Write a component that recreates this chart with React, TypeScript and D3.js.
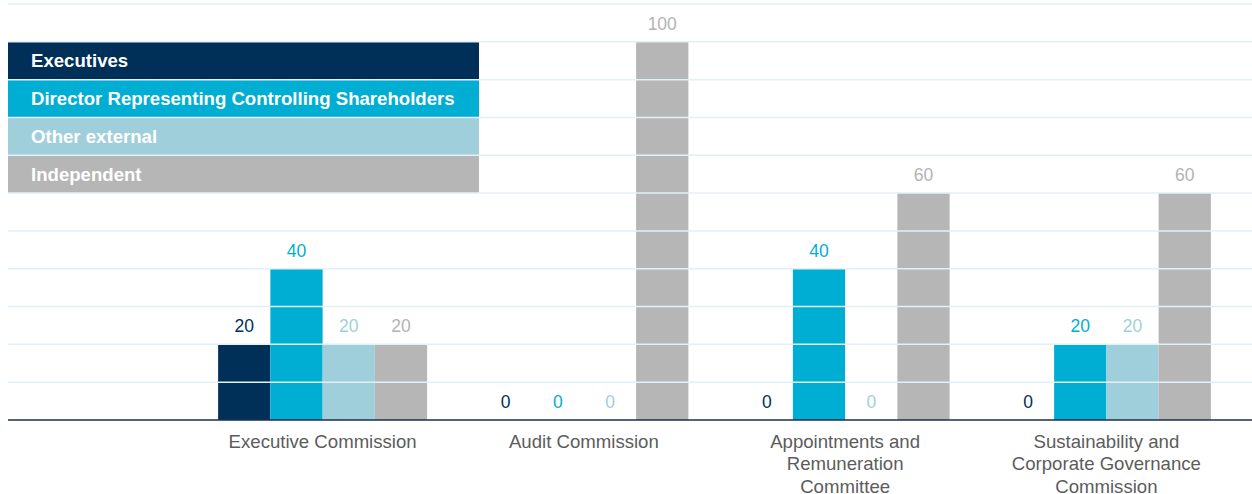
import * as d3 from "d3";
import React from "react";

const categories = [
  ["Executive Commission"],
  ["Audit Commission"],
  ["Appointments and", "Remuneration", "Committee"],
  ["Sustainability and", "Corporate Governance", "Commission"],
];
const seriesNames = [
  "Executives",
  "Director Representing Controlling Shareholders",
  "Other external",
  "Independent",
];
const seriesColors = ["#003057", "#00aed3", "#9fcfda", "#b5b6b5"];
const executives = [20, 0, 0, 0];
const controlling = [40, 0, 40, 20];
const otherExternal = [20, 0, 0, 20];
const independent = [20, 100, 60, 60];
const gridTicks = [10, 20, 30, 40, 50, 60, 70, 80, 90, 100, 110];

const W = 1252;
const H = 494;
const FONT = "'Liberation Sans', Arial, sans-serif";

export default function App() {
  const values = [executives, controlling, otherExternal, independent];
  const x0 = d3
    .scaleBand<number>()
    .domain(d3.range(categories.length))
    .range([192, 1237])
    .paddingInner(0.2)
    .paddingOuter(0.1);
  const x1 = d3
    .scaleBand<number>()
    .domain(d3.range(seriesNames.length))
    .range([0, x0.bandwidth()]);
  const y = d3.scaleLinear().domain([0, 110]).range([420, 4]);

  return (
    <svg
      width={W}
      height={H}
      style={{ position: "absolute", left: 0, top: 0, display: "block" }}
      fontFamily={FONT}
    >
      <rect width={W} height={H} fill="#fff" />
      {/* bars */}
      {categories.map((c, ci) =>
        values.map((vals, si) => (
          <rect
            key={`b${ci}-${si}`}
            x={x0(ci)! + x1(si)!}
            y={y(vals[ci])}
            width={x1.bandwidth()}
            height={y(0) - y(vals[ci])}
            fill={seriesColors[si]}
          />
        ))
      )}
      {/* legend as table rows */}
      {seriesNames.map((name, i) => (
        <g key={name}>
          <rect
            x={8}
            y={y(100 - i * 10)}
            width={471}
            height={y(90) - y(100)}
            fill={seriesColors[i]}
          />
          <text
            x={31}
            y={y(95 - i * 10) + 6.5}
            fill="#fff"
            fontWeight="bold"
            fontSize={18.6}
          >
            {name}
          </text>
        </g>
      ))}
      {/* grid lines */}
      {gridTicks.map((t) => (
        <line
          key={t}
          x1={8}
          x2={W}
          y1={y(t)}
          y2={y(t)}
          stroke="#e2f0f8"
          strokeWidth={1.5}
        />
      ))}
      <line x1={8} x2={W} y1={y(0)} y2={y(0)} stroke="#1c2e4f" strokeWidth={1.5} />
      {/* value labels */}
      {categories.map((c, ci) =>
        values.map((vals, si) => (
          <text
            key={`v${ci}-${si}`}
            x={x0(ci)! + x1(si)! + x1.bandwidth() / 2}
            y={y(vals[ci]) - 12}
            textAnchor="middle"
            fontSize={17.5}
            fill={si === 3 ? "#b3b3b3" : seriesColors[si]}
          >
            {vals[ci]}
          </text>
        ))
      )}
      {/* category labels */}
      {categories.map((lines, ci) => (
        <text
          key={`c${ci}`}
          x={x0(ci)! + x0.bandwidth() / 2}
          y={447.5}
          textAnchor="middle"
          fontSize={18.6}
          fill="#5c5c5c"
        >
          {lines.map((l, li) => (
            <tspan key={li} x={x0(ci)! + x0.bandwidth() / 2} dy={li === 0 ? 0 : 22.5}>
              {l}
            </tspan>
          ))}
        </text>
      ))}
    </svg>
  );
}
